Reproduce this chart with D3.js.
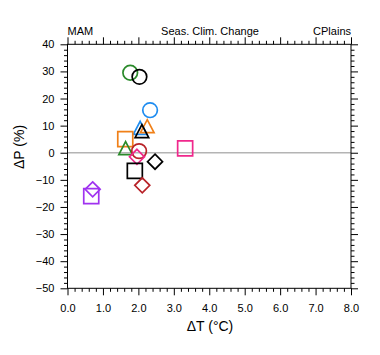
<!DOCTYPE html>
<html><head><meta charset="utf-8">
<script src="https://cdn.jsdelivr.net/npm/d3@7"></script>
<style>body{margin:0;background:#fff}svg{display:block}text{font-family:"Liberation Sans",Arial,sans-serif}</style>
</head><body>
<svg id="c" width="380" height="355"></svg>
<script>
const models = ["m1","m2","m3","m4","m5","m6","m7","m8","m9","m10","m11","m12","m13","m14","m15","m16"];
const dT = [1.77, 2.03, 2.33, 2.05, 2.25, 2.10, 1.63, 1.64, 2.02, 1.96, 2.47, 1.90, 2.11, 3.32, 0.71, 0.67];
const dP = [29.5, 28.0, 15.7, 9.0, 9.6, 7.8, 5.0, 1.5, 0.6, -1.5, -3.3, -6.7, -12.0, 1.6, -13.5, -16.0];
const shapes = ["circle","circle","circle","triangle","triangle","triangle","square","triangle","circle","diamond","diamond","square","diamond","square","diamond","square"];
const colors = ["#2a8a2a","#000000","#1e8cf0","#1e8cf0","#f08018","#000000","#f08018","#2a8a2a","#b82228","#f0288c","#000000","#000000","#b82228","#f0288c","#a032f0","#a032f0"];
const xTicks = [0,1,2,3,4,5,6,7,8];
const yTicks = [40,30,20,10,0,-10,-20,-30,-40,-50];

const svg = d3.select("#c");
const L=67.5, R=351, T=44.3, B=288.3;
const x = d3.scaleLinear().domain([0,8]).range([L,R]);
const y = d3.scaleLinear().domain([-50,40]).range([B,T]);

// zero line
svg.append("line").attr("x1",L).attr("x2",R).attr("y1",y(0)).attr("y2",y(0))
  .attr("stroke","#b4b4b4").attr("stroke-width",1.6);

const xMinor = d3.range(0,8.001,0.2).filter(v=>Math.abs(v-Math.round(v))>1e-6);
const yMinor = d3.range(-50,40.001,2).filter(v=>Math.abs(v%10)>1e-6);

function axis(gen, tr, labels){
  const g = svg.append("g").attr("transform",tr).call(gen);
  g.select(".domain").remove();
  g.selectAll("line").attr("stroke","#000").attr("stroke-width",1);
  g.selectAll("text").attr("font-size",11).attr("fill","#000");
  if(!labels) g.selectAll("text").remove();
  return g;
}
// bottom
axis(d3.axisBottom(x).tickValues(xTicks).tickSize(7).tickPadding(9).tickFormat(d3.format(".1f")), `translate(0,${B})`, true);
axis(d3.axisBottom(x).tickValues(xMinor).tickSize(3.5), `translate(0,${B})`, false);
// top
axis(d3.axisTop(x).tickValues(xTicks).tickSize(7), `translate(0,${T})`, false);
axis(d3.axisTop(x).tickValues(xMinor).tickSize(3.5), `translate(0,${T})`, false);
// left
axis(d3.axisLeft(y).tickValues(yTicks).tickSize(7).tickPadding(6).tickFormat(d3.format("d")), `translate(${L},0)`, true);
axis(d3.axisLeft(y).tickValues(yMinor).tickSize(3.5), `translate(${L},0)`, false);
// right
axis(d3.axisRight(y).tickValues(yTicks).tickSize(7), `translate(${R},0)`, false);
axis(d3.axisRight(y).tickValues(yMinor).tickSize(3.5), `translate(${R},0)`, false);

// frame
svg.append("rect").attr("x",L).attr("y",T).attr("width",R-L).attr("height",B-T)
  .attr("fill","none").attr("stroke","#000").attr("stroke-width",1);

// markers
function shapePath(s){
  if(s==="circle") return "M7.3,0A7.3,7.3,0,1,1,-7.3,0A7.3,7.3,0,1,1,7.3,0Z";
  if(s==="square") return "M-7.5,-7.5H7.5V7.5H-7.5Z";
  if(s==="diamond") return "M0,-7.5L7.5,0L0,7.5L-7.5,0Z";
  return "M0,-7L6.8,6H-6.8Z";
}
const pts = models.map((m,i)=>({m, t:dT[i], p:dP[i], s:shapes[i], c:colors[i]}));
svg.append("g").selectAll("path").data(pts).join("path")
  .attr("transform",d=>`translate(${x(d.t)},${y(d.p)})`)
  .attr("d",d=>shapePath(d.s))
  .attr("fill","none").attr("stroke",d=>d.c).attr("stroke-width",1.7);

// titles
svg.append("text").attr("x",L).attr("y",35).attr("font-size",11).text("MAM");
svg.append("text").attr("x",210).attr("y",35).attr("font-size",11).attr("text-anchor","middle").text("Seas. Clim. Change");
svg.append("text").attr("x",R).attr("y",35).attr("font-size",11).attr("text-anchor","end").text("CPlains");
// axis labels
svg.append("text").attr("x",210).attr("y",331).attr("font-size",14).attr("text-anchor","middle").text("ΔT (°C)");
svg.append("text").attr("transform","translate(24,147) rotate(-90)").attr("font-size",14).attr("text-anchor","middle").text("ΔP (%)");
</script>
</body></html>
